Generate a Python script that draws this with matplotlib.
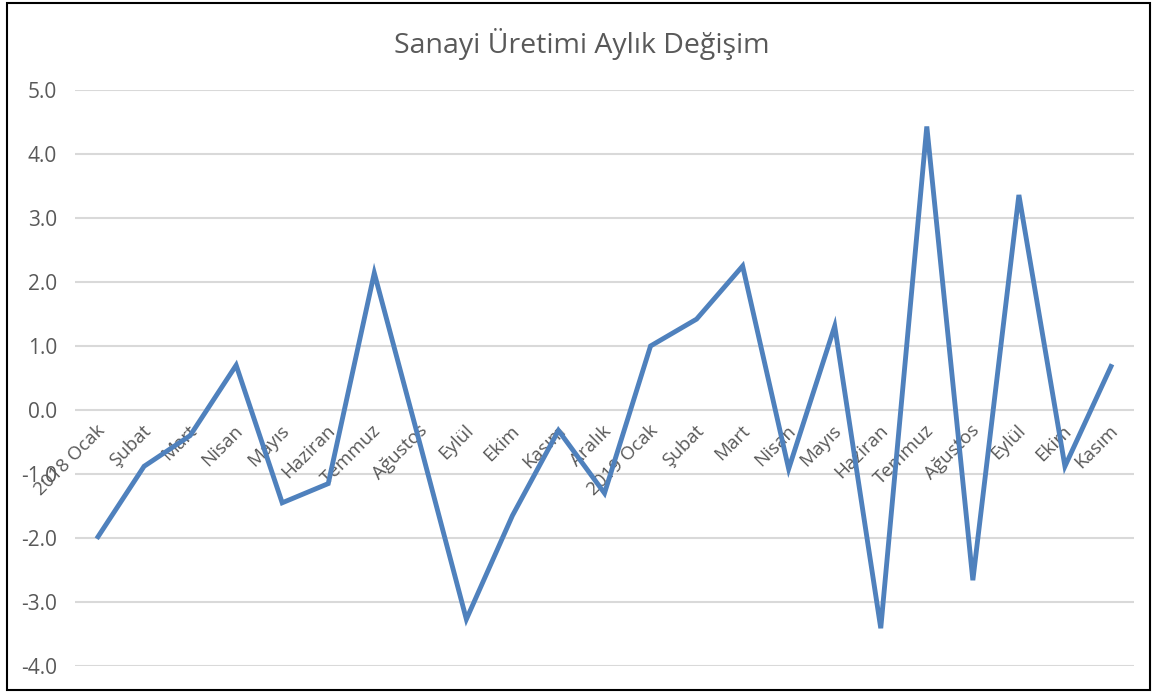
import matplotlib
matplotlib.use("Agg")
import matplotlib.pyplot as plt
from matplotlib.patches import Rectangle

plt.rcParams['font.family'] = ['Open Sans', 'DejaVu Sans']

categories = ["2018 Ocak", "Şubat", "Mart", "Nisan", "Mayıs", "Haziran", "Temmuz",
              "Ağustos", "Eylül", "Ekim", "Kasım", "Aralık", "2019 Ocak", "Şubat",
              "Mart", "Nisan", "Mayıs", "Haziran", "Temmuz", "Ağustos", "Eylül",
              "Ekim", "Kasım"]
values = [-1.98, -0.88, -0.40, 0.70, -1.45, -1.15, 2.14, -0.55, -3.27, -1.65, -0.32,
          -1.30, 1.00, 1.42, 2.25, -0.92, 1.31, -3.41, 4.43, -2.66, 3.36, -0.88, 0.68]
yticks = [-4.0, -3.0, -2.0, -1.0, 0.0, 1.0, 2.0, 3.0, 4.0, 5.0]
title = "Sanayi Üretimi Aylık Değişim"

W, H = 1155, 695
fig = plt.figure(figsize=(W / 100, H / 100), dpi=100)
ax = fig.add_axes([75 / W, (H - 666) / H, (1134 - 75) / W, (666 - 90) / H])

x = list(range(len(categories)))
ax.plot(x, values, color="#4F81BD", lw=3.5, solid_joinstyle="miter", zorder=3)

ax.set_xlim(-0.5, len(categories) - 0.5)
ax.set_ylim(-4, 5)
ax.set_yticks(yticks)
ax.set_yticklabels([f"{v:.1f}" for v in yticks], color="#595959", fontsize=15)
ax.tick_params(axis="y", length=0, pad=13)
ax.set_xticks([])
ax.grid(axis="y", color="#D9D9D9", lw=1.5, zorder=1)
ax.set_axisbelow(True)
for s in ax.spines.values():
    s.set_visible(False)

for i, lab in enumerate(categories):
    ax.annotate(lab, xy=(i, 0), xytext=(3, -13), textcoords="offset points",
                rotation=45, rotation_mode="anchor", ha="right", va="center",
                fontsize=13.5, color="#595959", zorder=2)

fig.text(582 / W, 1 - 44 / H, title, ha="center", va="center", fontsize=20.5, color="#595959")

fig.patches.append(Rectangle((7 / W, 1 - 690 / H), (1150 - 7) / W, (690 - 3) / H,
                             transform=fig.transFigure, fill=False, edgecolor="black", lw=1.5))

fig.savefig("out.png", dpi=100)
